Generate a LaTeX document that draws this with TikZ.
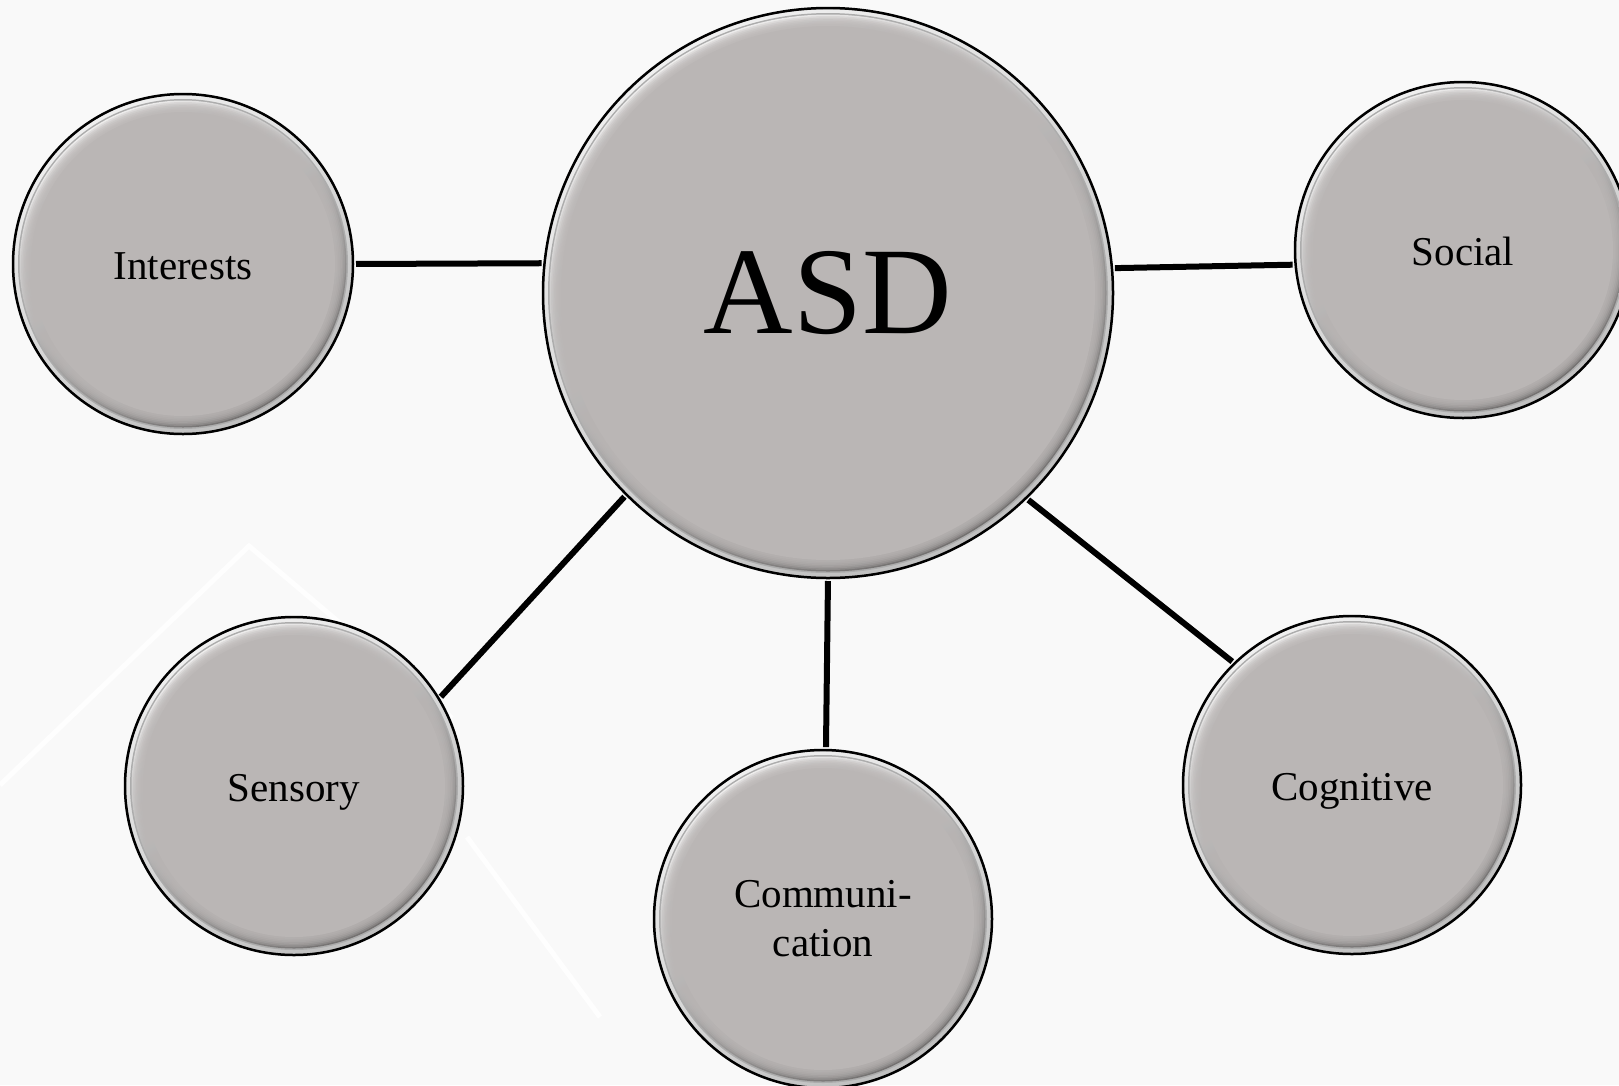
\documentclass[tikz,border=0pt]{standalone}
\usepackage{fontspec}
\setmainfont{Liberation Serif}
\definecolor{bubfill}{RGB}{186,182,181}
\definecolor{bgcol}{RGB}{249,249,249}
\tikzset{
  bub/.style={circle, inner sep=0pt, outer sep=0pt, minimum size=2*#1,
    fill=bubfill, draw=black, line width=2.5pt, text=black, align=center,
    font=\fontsize{41}{49}\selectfont,
    path picture={
      \coordinate (pc) at (path picture bounding box.center);
      \shade[top color=gray!12, bottom color=gray!50, shading angle=30]
        (pc) circle[radius=#1pt-1.2pt];
      \fill[gray!65] (pc) circle[radius=#1pt-5pt];
      \shade[top color=white!75!bubfill, bottom color=bubfill!62!black, shading angle=30]
        (pc) circle[radius=#1pt-6.5pt];
      \foreach \k in {0,...,5} {\fill[bubfill, opacity=0.3] (pc) circle[radius=#1pt-8pt-1.6pt*\k];}
      \fill[bubfill] (pc) circle[radius=#1pt-18pt];
    }},
  oneline/.style={text height=30pt, text depth=0pt},
  link/.style={line width=6pt, draw=black, shorten <=3pt, shorten >=3pt},
  bgline/.style={white, line width=5pt, opacity=0.9},
}
\begin{document}
\begin{tikzpicture}[x=1pt,y=-1pt]
  \fill[bgcol] (0,0) rectangle (1619,1085);
  \useasboundingbox (0,0) rectangle (1619,1085);
  % faint background pattern
  \draw[bgline] (0,785) -- (249,546) -- (452,718);
  \draw[bgline] (467,837) -- (600,1017);
  % bubbles
  \node[bub=285, font=\fontsize{124}{130}\selectfont] (asd) at (828,293) {ASD};
  \node[bub=170, oneline] (int) at (183,264) {Interests};
  \node[bub=168, oneline] (soc) at (1463,250) {Social};
  \node[bub=169, oneline] (sen) at (294,786) {Sensory};
  \node[bub=169] (com) at (823,919) {Communi-\\cation};
  \node[bub=169, oneline] (cog) at (1352,785) {Cognitive};
  % connectors
  \draw[link] (int.0) -- (asd.174);
  \draw[link] (asd.5.4) -- (soc.185.5);
  \draw[link] (sen.31.7) -- (asd.225.6);
  \draw[link] (asd.270) -- (com.89);
  \draw[link] (asd.314.7) -- (cog.134.3);
\end{tikzpicture}
\end{document}
